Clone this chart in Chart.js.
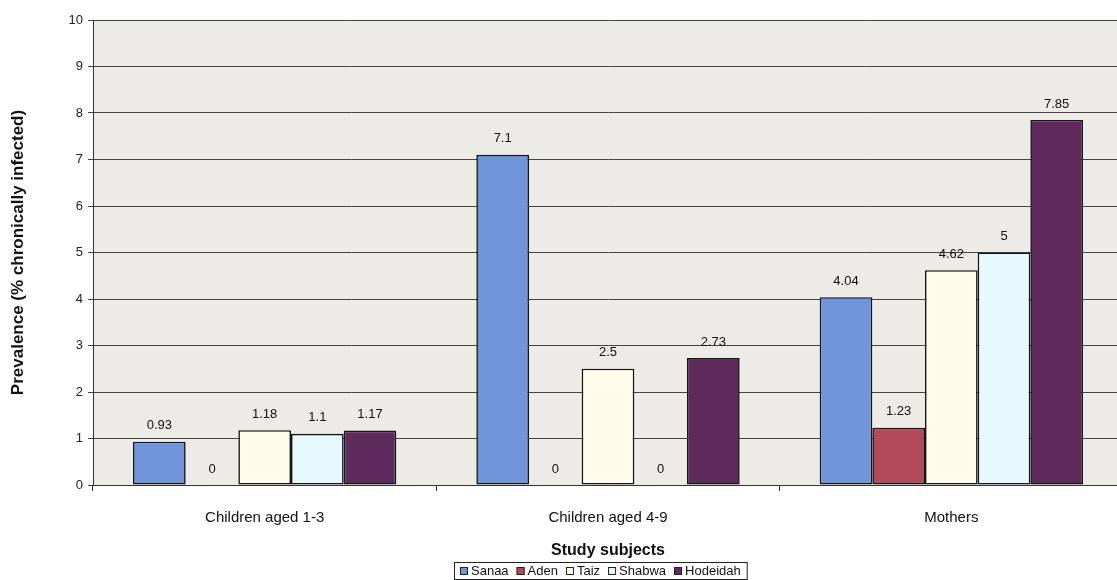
<!DOCTYPE html>
<html>
<head>
<meta charset="utf-8">
<script src="https://cdn.jsdelivr.net/npm/chart.js@4.4.1/dist/chart.umd.min.js"></script>
<style>
  html, body { margin: 0; padding: 0; background: #ffffff; overflow: hidden; }
  #wrap { position: relative; width: 1117px; height: 580px; overflow: hidden; }
  #wrap canvas { position: absolute; left: 0; top: 0; }
</style>
</head>
<body>
<div id="wrap"><canvas id="chart" width="1130" height="580"></canvas></div>
<script>
// Study groups on the x axis
const categories = ['Children aged 1-3', 'Children aged 4-9', 'Mothers'];

// Prevalence (% chronically infected) per governorate
const sanaa    = [0.93, 7.1, 4.04];
const aden     = [0, 0, 1.23];
const taiz     = [1.18, 2.5, 4.62];
const shabwa   = [1.1, 0, 5];
const hodeidah = [1.17, 2.73, 7.85];

// Value axis ticks
const yTicks = [0, 1, 2, 3, 4, 5, 6, 7, 8, 9, 10];

const FONT = 'Arial, "Liberation Sans", sans-serif';

const series = [
  { label: 'Sanaa',    data: sanaa,    color: '#7095da' },
  { label: 'Aden',     data: aden,     color: '#b24a5c' },
  { label: 'Taiz',     data: taiz,     color: '#fffcea' },
  { label: 'Shabwa',   data: shabwa,   color: '#e6f9fc' },
  { label: 'Hodeidah', data: hodeidah, color: '#5f2b5d' }
];

// Grey plot background that runs off the right edge
const plotBackground = {
  id: 'plotBackground',
  beforeDraw(chart) {
    const { ctx, chartArea } = chart;
    ctx.save();
    ctx.fillStyle = '#ecebe6';
    ctx.fillRect(chartArea.left, chartArea.top, chart.width - chartArea.left, chartArea.bottom - chartArea.top);
    ctx.restore();
  }
};

// Numbers printed above each bar
const valueLabels = {
  id: 'valueLabels',
  afterDatasetsDraw(chart) {
    const { ctx } = chart;
    ctx.save();
    ctx.font = '13px ' + FONT;
    ctx.fillStyle = '#111111';
    ctx.textAlign = 'center';
    ctx.textBaseline = 'middle';
    chart.data.datasets.forEach((ds, di) => {
      const meta = chart.getDatasetMeta(di);
      meta.data.forEach((bar, i) => {
        ctx.fillText(String(ds.data[i]), bar.x, bar.y - 16);
      });
    });
    ctx.restore();
  }
};

// Boxed legend beneath the axis title
const boxedLegend = {
  id: 'boxedLegend',
  afterDraw(chart) {
    const { ctx } = chart;
    const centerX = 600, top = 562, height = 17;
    const sq = 8, gapText = 3, gapItem = 8, pad = 6;
    ctx.save();
    ctx.font = '13px ' + FONT;
    const widths = chart.data.datasets.map(ds => ctx.measureText(ds.label).width);
    let total = pad * 2;
    widths.forEach((w, i) => { total += sq + gapText + w + (i < widths.length - 1 ? gapItem : 0); });
    const left = Math.round(centerX - total / 2);
    ctx.fillStyle = '#ffffff';
    ctx.fillRect(left, top, total, height);
    ctx.strokeStyle = '#222222';
    ctx.lineWidth = 1;
    ctx.strokeRect(left + 0.5, top + 0.5, total, height);
    let x = left + pad;
    const cy = top + height / 2 + 0.5;
    chart.data.datasets.forEach((ds, i) => {
      ctx.fillStyle = ds.backgroundColor;
      ctx.fillRect(x, cy - sq / 2, sq, sq);
      ctx.strokeStyle = '#222222';
      ctx.strokeRect(x + 0.5, cy - sq / 2 + 0.5, sq - 1, sq - 1);
      ctx.fillStyle = '#111111';
      ctx.textAlign = 'left';
      ctx.textBaseline = 'middle';
      ctx.fillText(ds.label, x + sq + gapText, cy);
      x += sq + gapText + widths[i] + gapItem;
    });
    ctx.restore();
  }
};

new Chart(document.getElementById('chart'), {
  type: 'bar',
  data: {
    labels: categories,
    datasets: series.map(s => ({
      label: s.label,
      data: s.data,
      backgroundColor: s.color,
      borderColor: '#151515',
      borderWidth: 1.6,
      borderSkipped: false,
      categoryPercentage: 0.767,
      barPercentage: 1
    }))
  },
  options: {
    responsive: false,
    animation: false,
    layout: { padding: { top: 20, right: 7, bottom: 0, left: 0 } },
    plugins: {
      legend: { display: false },
      tooltip: { enabled: false },
      title: { display: false }
    },
    scales: {
      x: {
        afterFit(scale) { scale.height = 95; },
        grid: {
          offset: true,
          drawOnChartArea: false,
          drawTicks: true,
          tickLength: 6,
          color: '#333333'
        },
        border: { display: true, color: '#333333', width: 1 },
        ticks: {
          padding: 18,
          color: '#111111',
          font: { family: FONT, size: 15 }
        },
        title: {
          display: true,
          text: 'Study subjects',
          color: '#111111',
          font: { family: FONT, size: 16, weight: 'bold' },
          padding: { top: 0, bottom: 20 }
        }
      },
      y: {
        min: 0,
        max: 10,
        afterFit(scale) { scale.width = 93; },
        afterBuildTicks(scale) { scale.ticks = yTicks.map(v => ({ value: v })); },
        grid: {
          color: '#444444',
          lineWidth: 1,
          tickLength: 5
        },
        border: { display: true, color: '#333333', width: 1 },
        ticks: {
          padding: 5,
          color: '#222222',
          font: { family: FONT, size: 13 }
        },
        title: {
          display: true,
          text: 'Prevalence (% chronically infected)',
          color: '#111111',
          font: { family: FONT, size: 17, weight: 'bold' },
          padding: { top: 8, bottom: 0 }
        }
      }
    }
  },
  plugins: [plotBackground, valueLabels, boxedLegend]
});
</script>
</body>
</html>
